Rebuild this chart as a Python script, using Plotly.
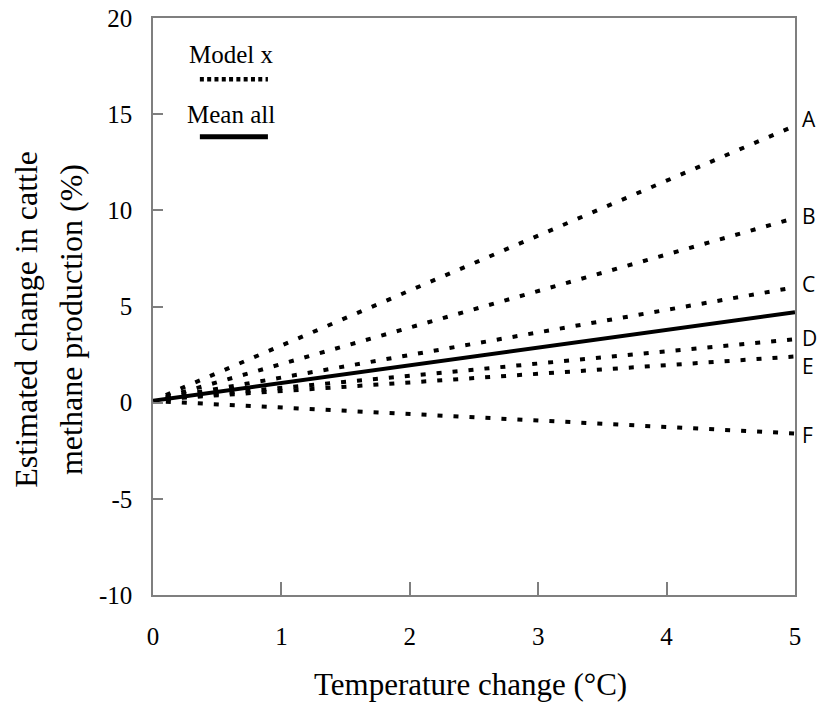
import plotly.graph_objects as go

# Data
x_model = [0.1, 5.0]
models = ["A", "B", "C", "D", "E", "F"]
model_start = [0.4, 0.3, 0.25, 0.2, 0.2, 0.05]
model_end = [14.4, 9.6, 6.0, 3.3, 2.4, -1.6]
x_mean = [0.0, 5.0]
y_mean = [0.1, 4.7]
x_ticks = [0, 1, 2, 3, 4, 5]
x_tick_labels = ["0", "1", "2", "3", "4", "5"]
y_ticks = [-10, -5, 0, 5, 10, 15, 20]
y_tick_labels = ["-10", "-5", "0", "5", "10", "15", "20"]

SERIF = "Liberation Serif, Times New Roman, serif"
SANS = "Open Sans, Liberation Sans, sans-serif"
AX = "#7f7f7f"

fig = go.Figure()
for name, y0, y1 in zip(models, model_start, model_end):
    fig.add_trace(go.Scatter(x=x_model, y=[y0, y1], mode="lines", name=name,
                             line=dict(color="black", width=4, dash="5px,11px"),
                             showlegend=False, hoverinfo="skip"))
fig.add_trace(go.Scatter(x=x_mean, y=y_mean, mode="lines", name="Mean all",
                         line=dict(color="black", width=4),
                         showlegend=False, hoverinfo="skip"))

label_shift = {"A": 7, "B": 2, "C": 3, "D": 1, "E": -9, "F": -2}
for name, y1 in zip(models, model_end):
    fig.add_annotation(x=5, y=y1, xref="x", yref="y", text=name, showarrow=False,
                       xanchor="left", yanchor="middle", xshift=5,
                       yshift=label_shift[name],
                       font=dict(family=SANS, size=21, color="black"))

# legend-like key
fig.add_annotation(x=0.122, y=0.936, xref="paper", yref="paper", text="Model x",
                   showarrow=False, xanchor="center", yanchor="middle",
                   font=dict(family=SERIF, size=25, color="black"))
fig.add_annotation(x=0.122, y=0.832, xref="paper", yref="paper", text="Mean all",
                   showarrow=False, xanchor="center", yanchor="middle",
                   font=dict(family=SERIF, size=25, color="black"))
fig.add_shape(type="line", xref="paper", yref="paper", x0=0.073, x1=0.179,
              y0=0.894, y1=0.894, line=dict(color="black", width=4.5, dash="4px,3.3px"))
fig.add_shape(type="line", xref="paper", yref="paper", x0=0.073, x1=0.179,
              y0=0.794, y1=0.794, line=dict(color="black", width=5))

# axis titles
fig.add_annotation(x=0.494, y=-0.1545, xref="paper", yref="paper",
                   text="Temperature change (°C)", showarrow=False,
                   xanchor="center", yanchor="middle",
                   font=dict(family=SERIF, size=31, color="black"))
fig.add_annotation(x=-0.197, y=0.478, xref="paper", yref="paper",
                   text="Estimated change in cattle", showarrow=False, textangle=-90,
                   xanchor="center", yanchor="middle",
                   font=dict(family=SERIF, size=32, color="black"))
fig.add_annotation(x=-0.128, y=0.478, xref="paper", yref="paper",
                   text="methane production (%)", showarrow=False, textangle=-90,
                   xanchor="center", yanchor="middle",
                   font=dict(family=SERIF, size=32, color="black"))

fig.update_layout(
    width=819, height=715,
    margin=dict(l=153, r=24, t=18, b=120),
    plot_bgcolor="white", paper_bgcolor="white",
    font=dict(family=SERIF, color="black"),
    xaxis=dict(range=[0, 5], tickvals=x_ticks, ticktext=x_tick_labels,
               ticks="inside", ticklen=13, automargin=False,
               tickwidth=1.5, tickcolor=AX, showline=True, linecolor=AX, linewidth=1.5,
               mirror=True, showgrid=False, zeroline=False,
               tickfont=dict(family=SERIF, size=25, color="black"),
               ticklabelstandoff=18),
    yaxis=dict(range=[-10, 20], tickvals=y_ticks, ticktext=y_tick_labels,
               ticks="inside", ticklen=10, automargin=False,
               tickwidth=1.5, tickcolor=AX, showline=True, linecolor=AX, linewidth=1.5,
               mirror=True, showgrid=False, zeroline=False,
               tickfont=dict(family=SERIF, size=25, color="black"),
               ticklabelstandoff=14),
)
fig.write_html("out.html", config={"displayModeBar": False},
               post_script="document.body.style.margin='0px';")
